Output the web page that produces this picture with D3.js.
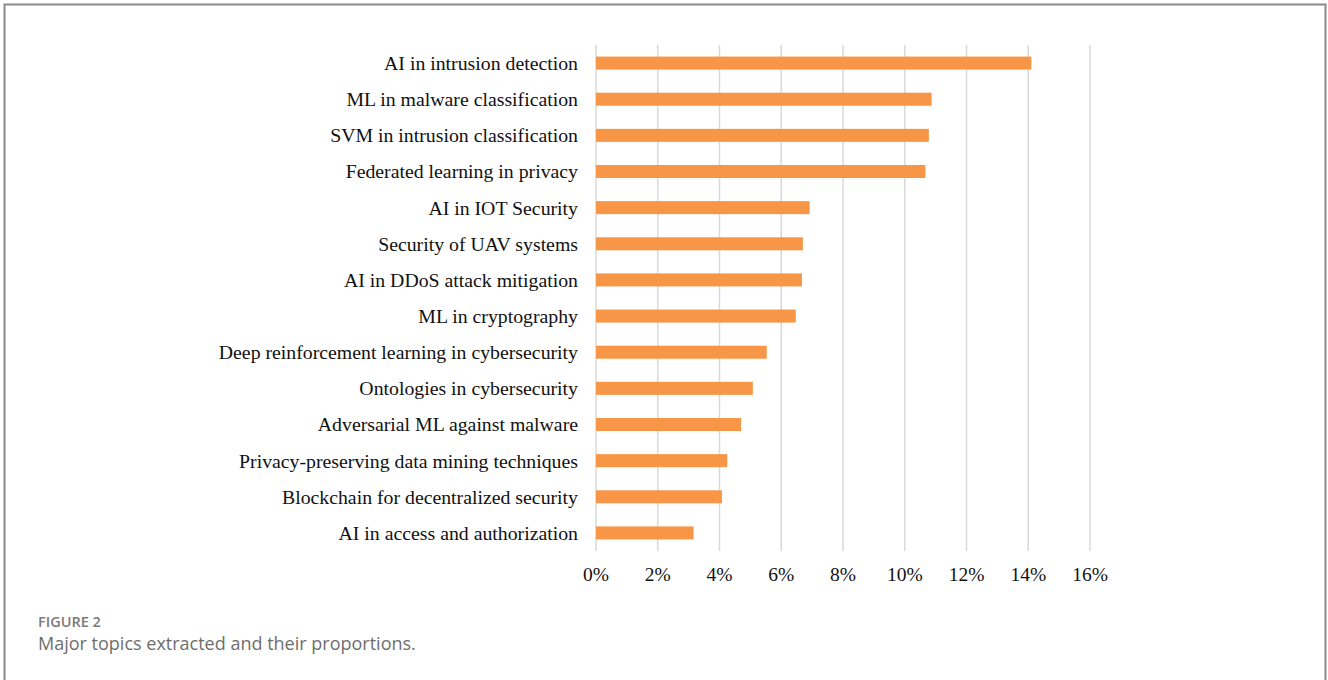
<!DOCTYPE html>
<html>
<head>
<meta charset="utf-8">
<script src="https://cdn.jsdelivr.net/npm/d3@7"></script>
<style>
  html, body { margin: 0; padding: 0; background: #fff; }
  svg { display: block; }
</style>
</head>
<body>
<svg id="chart" width="1328" height="680"></svg>
<script>
// Topic names, top to bottom
const topics = [
  "AI in intrusion detection",
  "ML in malware classification",
  "SVM in intrusion classification",
  "Federated learning in privacy",
  "AI in IOT Security",
  "Security of UAV systems",
  "AI in DDoS attack mitigation",
  "ML in cryptography",
  "Deep reinforcement learning in cybersecurity",
  "Ontologies in cybersecurity",
  "Adversarial ML against malware",
  "Privacy-preserving data mining techniques",
  "Blockchain for decentralized security",
  "AI in access and authorization"
];

// Share of each topic, in percent
const shares = [14.1, 10.87, 10.78, 10.67, 6.92, 6.70, 6.67, 6.47, 5.53, 5.08, 4.70, 4.25, 4.08, 3.16];

// Axis tick values, in percent
const ticks = [0, 2, 4, 6, 8, 10, 12, 14, 16];

const svg = d3.select("#chart");

// Outer frame (open at the bottom)
svg.append("path")
  .attr("d", "M4.5,680 V4.5 H1325.5 V680")
  .attr("fill", "none")
  .attr("stroke", "#8a8a8a")
  .attr("stroke-width", 2);

const x = d3.scaleLinear().domain([0, 16]).range([596, 1090]);
const y = d3.scaleBand().domain(topics).range([45, 551]).paddingInner(0.64).paddingOuter(0.32);

// Vertical gridlines
svg.append("g")
  .selectAll("line")
  .data(ticks)
  .join("line")
  .attr("x1", d => x(d)).attr("x2", d => x(d))
  .attr("y1", 45).attr("y2", 551)
  .attr("stroke", "#d9d9d9")
  .attr("stroke-width", 1.5);

// Bars
svg.append("g")
  .selectAll("rect")
  .data(topics)
  .join("rect")
  .attr("x", x(0))
  .attr("y", d => y(d))
  .attr("width", (d, i) => x(shares[i]) - x(0))
  .attr("height", y.bandwidth())
  .attr("fill", "#f79646");

// Category labels
svg.append("g")
  .selectAll("text")
  .data(topics)
  .join("text")
  .attr("x", 578)
  .attr("y", d => y(d) + y.bandwidth() / 2)
  .attr("dy", "0.35em")
  .attr("text-anchor", "end")
  .attr("font-family", "'Liberation Serif', 'Times New Roman', serif")
  .attr("font-size", 19.8)
  .attr("fill", "#111")
  .text(d => d);

// X axis tick labels
svg.append("g")
  .selectAll("text")
  .data(ticks)
  .join("text")
  .attr("x", d => x(d))
  .attr("y", 581)
  .attr("text-anchor", "middle")
  .attr("font-family", "'Liberation Serif', 'Times New Roman', serif")
  .attr("font-size", 19.5)
  .attr("fill", "#111")
  .text(d => d + "%");

// Caption
svg.append("text")
  .attr("x", 38).attr("y", 626.5)
  .attr("font-family", "'Open Sans', sans-serif")
  .attr("font-size", 14.5)
  .attr("font-weight", 600)
  .attr("fill", "#7a7a7a")
  .text("FIGURE 2");

svg.append("text")
  .attr("x", 38).attr("y", 650)
  .attr("font-family", "'Open Sans', sans-serif")
  .attr("font-size", 18)
  .attr("fill", "#6e6e6e")
  .text("Major topics extracted and their proportions.");
</script>
</body>
</html>
